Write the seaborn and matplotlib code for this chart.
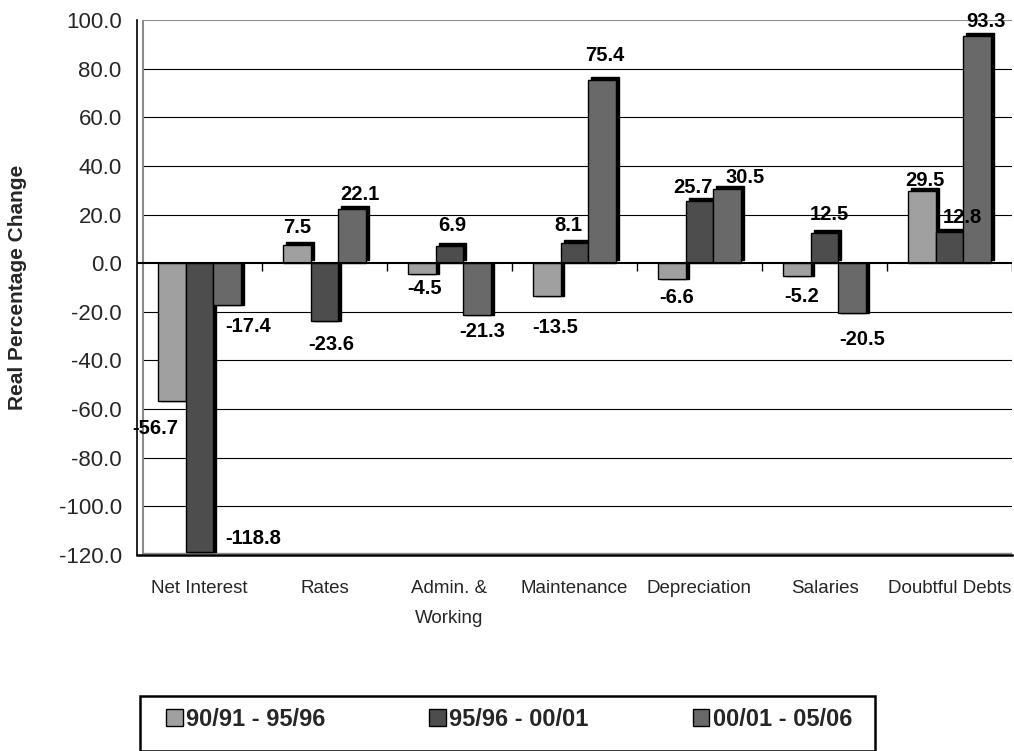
import matplotlib
matplotlib.use("Agg")
import matplotlib.pyplot as plt
import matplotlib.transforms as mtransforms
from matplotlib.patches import Rectangle, Patch
from matplotlib import font_manager
import seaborn as sns
import pandas as pd

# ---------------- data ----------------
categories = ["Net Interest", "Rates", "Admin. &\nWorking", "Maintenance",
              "Depreciation", "Salaries", "Doubtful Debts"]
series = ["90/91 - 95/96", "95/96 - 00/01", "00/01 - 05/06"]
s1 = [-56.7, 7.5, -4.5, -13.5, -6.6, -5.2, 29.5]
s2 = [-118.8, -23.6, 6.9, 8.1, 25.7, 12.5, 12.8]
s3 = [-17.4, 22.1, -21.3, 75.4, 30.5, -20.5, 93.3]
yticks = [-120, -100, -80, -60, -40, -20, 0, 20, 40, 60, 80, 100]
ylabel = "Real Percentage Change"

colors = ["#A0A0A0", "#4D4D4D", "#696969"]

# label nudges in pixels (dx, dy) keyed by (category index, series index)
label_nudge = {
    (0, 0): (-17, -13), (0, 1): (54, 28), (0, 2): (21, -7),
    (1, 0): (0, 3), (1, 1): (7, -10), (1, 2): (8, 1),
    (2, 0): (3, 0), (2, 1): (3, 7), (2, 2): (5, -3),
    (3, 0): (8, -17), (3, 1): (-6, 4), (3, 2): (3, 10),
    (4, 0): (5, -4), (4, 1): (-7, -1), (4, 2): (18, -2),
    (5, 0): (5, -7), (5, 1): (5, 4), (5, 2): (10, -12),
    (6, 0): (3, -3), (6, 1): (13, 1), (6, 2): (9, 1),
}

rows = []
for vals, s in zip([s1, s2, s3], series):
    for c, v in zip(categories, vals):
        rows.append({"Category": c, "Series": s, "Value": v})
df = pd.DataFrame(rows)

# ---------------- fonts ----------------
sns.set_style("white")
avail = {f.name for f in font_manager.fontManager.ttflist}
main_font = "Liberation Sans" if "Liberation Sans" in avail else "DejaVu Sans"
plt.rcParams["font.family"] = [main_font, "DejaVu Sans"]

# ---------------- figure ----------------
W, H = 1014, 751
fig = plt.figure(figsize=(W / 100, H / 100), dpi=100)
fig.patch.set_facecolor("white")
ax = fig.add_axes([137 / W, 1 - 555 / H, 875 / W, 535 / H])
ax.set_facecolor("white")

sns.barplot(data=df, x="Category", y="Value", hue="Series", order=categories,
            hue_order=series, palette=colors, width=0.66, saturation=1,
            edgecolor="black", linewidth=1.0, errorbar=None, ax=ax, zorder=3)
if ax.get_legend() is not None:
    ax.get_legend().remove()

ax.set_xlim(-0.5, len(categories) - 0.5)
ax.set_ylim(-120, 100)

# 3-D style depth: black shadow offset behind each bar
shadow_pos = mtransforms.offset_copy(ax.transData, fig=fig, x=3, y=3, units="dots")
shadow_neg = mtransforms.offset_copy(ax.transData, fig=fig, x=3, y=0, units="dots")
for cont in ax.containers:
    for p in cont:
        tr = shadow_pos if p.get_height() >= 0 else shadow_neg
        r = Rectangle((p.get_x(), p.get_y()), p.get_width(), p.get_height(),
                      transform=tr, facecolor="black", edgecolor="black",
                      linewidth=1.0, zorder=2.5)
        ax.add_patch(r)

# gridlines
for yv in yticks[1:-1]:
    if yv == 0:
        continue
    ax.axhline(yv, xmin=0.007, xmax=1, color="black", linewidth=0.8, zorder=1)
ax.axhline(100, xmin=0.007, xmax=1, color="#8C8C8C", linewidth=1.5, zorder=1)
ax.axvline(-0.5 + 7 * 0.007, color="#8C8C8C", linewidth=1.5, zorder=1)
ax.axhline(-119.3, xmin=0.007, color="#8C8C8C", linewidth=1.0, zorder=1)
# zero (category) line with downward tick marks
ax.axhline(0, color="black", linewidth=1.5, zorder=4)
bounds = [i - 0.5 for i in range(len(categories) + 1)]
ax.vlines(bounds[1:], -3.2, 0, color="black", linewidth=1.0, zorder=4)

# spines
for s in ["top", "right"]:
    ax.spines[s].set_visible(False)
ax.spines["left"].set_color("black")
ax.spines["left"].set_linewidth(1.2)
ax.spines["bottom"].set_color("black")
ax.spines["bottom"].set_linewidth(1.8)

# y axis
ax.set_yticks(yticks)
ax.set_yticklabels([f"{v:.1f}" for v in yticks], fontsize=16)
ax.tick_params(axis="y", direction="out", length=9, width=1, color="black", pad=2)
ax.set_ylabel(ylabel, fontsize=15, fontweight="bold")
ax.yaxis.set_label_coords(-(137 - 18) / 875, 0.5)
ax.yaxis.label.set_va("center")

# x axis: ticks at boundaries, labels at centers
ax.set_xticks(bounds)
ax.set_xticklabels([""] * len(bounds))
ax.tick_params(axis="x", which="major", direction="out", length=10, width=1, color="black")
ax.set_xticks(range(len(categories)), minor=True)
ax.set_xticklabels(categories, minor=True, fontsize=13.5, linespacing=2.0)
ax.tick_params(axis="x", which="minor", length=0, pad=18)
ax.set_xlabel("")

# data labels
for j, cont in enumerate(ax.containers):
    for i, p in enumerate(cont):
        v = [s1, s2, s3][j][i]
        xc = p.get_x() + p.get_width() / 2
        dx, dy = label_nudge.get((i, j), (0, 0))
        base = 14 if v >= 0 else -14
        ax.annotate(f"{v:.1f}", xy=(xc, v), xytext=(dx, base + dy),
                    textcoords="offset pixels", ha="center", va="center",
                    fontsize=14.5, fontweight="bold", color="black", zorder=6,
                    annotation_clip=False)

# legend (entries) + box
handles = [Patch(facecolor=c, edgecolor="black", linewidth=1.0) for c in colors]
leg = fig.legend(handles, series, loc="center left",
                 bbox_to_anchor=(166 / W, 1 - 719 / H), ncol=3, frameon=False,
                 borderpad=0, borderaxespad=0, handlelength=0.7, handleheight=0.7,
                 handletextpad=0.15, columnspacing=4.4,
                 prop={"weight": "bold", "size": 17})
box = Rectangle((140 / W, 0.0), 735 / W, 55 / H, transform=fig.transFigure,
                facecolor="none", edgecolor="black", linewidth=1.8, zorder=0)
fig.add_artist(box)

fig.savefig("out.png", dpi=100, facecolor="white")
